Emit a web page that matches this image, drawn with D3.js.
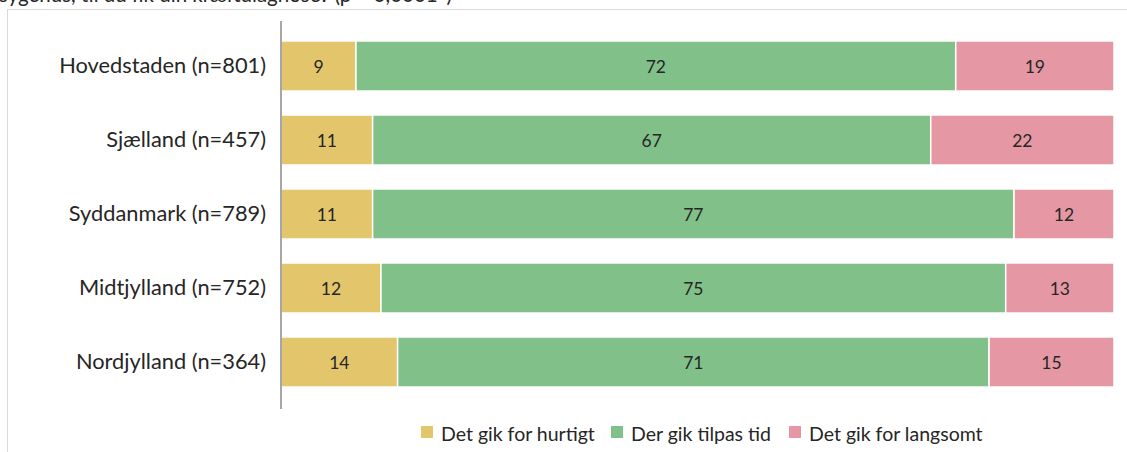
<!DOCTYPE html>
<html><head><meta charset="utf-8">
<script src="https://cdn.jsdelivr.net/npm/d3@7"></script>
<style>
body{margin:0;background:#fff;}
svg{display:block;font-family:Lato, "Open Sans", sans-serif;}
</style></head>
<body>
<svg id="c" width="1127" height="452"></svg>
<script>
const title = "sygehus, til du fik din kræftdiagnose? (p = 0,0001*)";
const categories = ["Hovedstaden (n=801)","Sjælland (n=457)","Syddanmark (n=789)","Midtjylland (n=752)","Nordjylland (n=364)"];
const seriesNames = ["Det gik for hurtigt","Der gik tilpas tid","Det gik for langsomt"];
const hurtigt = [9,11,11,12,14];
const tilpas = [72,67,77,75,71];
const langsomt = [19,22,12,13,15];
const colors = ["#E3C66B","#82C08A","#E598A4"];

const svg = d3.select("#c");

// frame
svg.append("rect").attr("x",7.5).attr("y",9.5).attr("width",1130).attr("height",460)
  .attr("fill","none").attr("stroke","#d9d9d9").attr("stroke-width",1);

// clipped title (cut at top edge as in reference)
svg.append("text").attr("x",-1).attr("y",2).attr("font-size",20.5).attr("fill","#262626").text(title);

const x = d3.scaleLinear().domain([0,100]).range([281,1114]);
const y = d3.scaleBand().domain(categories).range([29,399]).paddingInner(0.324).paddingOuter(0.162);

const rows = categories.map((c,i)=>({cat:c, vals:[hurtigt[i],tilpas[i],langsomt[i]]}));
const segs = [];
rows.forEach(r=>{let acc=0; r.vals.forEach((v,k)=>{segs.push({cat:r.cat,k,v,x0:acc,x1:acc+v}); acc+=v;});});

const g = svg.append("g");
g.selectAll("rect.seg").data(segs).join("rect").attr("class","seg")
  .attr("x",d=>x(d.x0)).attr("width",d=>x(d.x1)-x(d.x0))
  .attr("y",d=>y(d.cat)).attr("height",y.bandwidth())
  .attr("fill",d=>colors[d.k]).attr("stroke","#fff").attr("stroke-width",1.5);

g.selectAll("text.val").data(segs).join("text").attr("class","val")
  .attr("x",d=>(x(d.x0)+x(d.x1))/2).attr("y",d=>y(d.cat)+y.bandwidth()/2)
  .attr("text-anchor","middle").attr("dominant-baseline","central")
  .attr("font-size",17.5).attr("fill","#262626").text(d=>d.v);

// axis
const ax = svg.append("g").attr("transform","translate(281,0)")
  .call(d3.axisLeft(y).tickSize(0).tickPadding(15));
ax.select(".domain").remove();
ax.selectAll("text").attr("font-size",21.8).attr("fill","#262626").attr("font-family","Lato, sans-serif");
svg.append("line").attr("x1",281).attr("x2",281).attr("y1",21).attr("y2",409)
  .attr("stroke","#a6a6a6").attr("stroke-width",2);

// legend
const legX = [421,611,789];
const lg = svg.append("g");
seriesNames.forEach((n,i)=>{
  lg.append("rect").attr("x",legX[i]).attr("y",426).attr("width",12).attr("height",12).attr("fill",colors[i]);
  lg.append("text").attr("x",legX[i]+20).attr("y",433).attr("dominant-baseline","central")
    .attr("font-size",19.5).attr("fill","#262626").text(n);
});
</script>
</body></html>
